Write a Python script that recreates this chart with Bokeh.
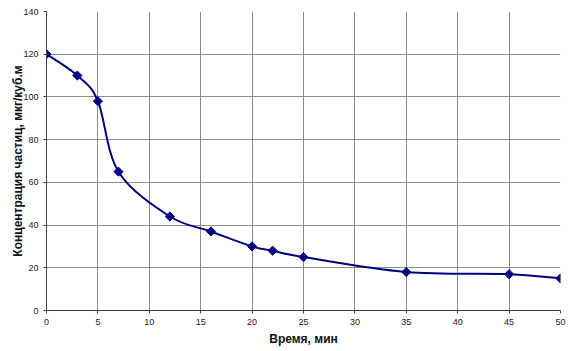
from bokeh.plotting import figure
from bokeh.models import Range1d, FixedTicker
from bokeh.embed import file_html
from bokeh.resources import INLINE
import numpy as np

time_min = [0, 3, 5, 7, 12, 16, 20, 22, 25, 35, 45, 50]
conc = [120, 110, 98, 65, 44, 37, 30, 28, 25, 18, 17, 15]
x_ticks = list(range(0, 51, 5))
y_ticks = list(range(0, 141, 20))

p = figure(width=570, height=351, output_backend="svg", toolbar_location=None,
           x_range=Range1d(0, 50), y_range=Range1d(0, 140),
           min_border_left=46, min_border_right=10, min_border_top=11, min_border_bottom=41)
p.outline_line_color = None
p.background_fill_color = "white"

# smoothed line (Catmull-Rom style Bezier segments between data points)
x = np.array(time_min, dtype=float)
y = np.array(conc, dtype=float)
xp = np.concatenate([[x[0]], x, [x[-1]]])
yp = np.concatenate([[y[0]], y, [y[-1]]])
n = len(x)
cx0 = x[:-1] + (xp[2:n+1] - xp[0:n-1]) / 6
cy0 = y[:-1] + (yp[2:n+1] - yp[0:n-1]) / 6
cx1 = x[1:] - (xp[3:n+2] - xp[1:n]) / 6
cy1 = y[1:] - (yp[3:n+2] - yp[1:n]) / 6
p.bezier(x0=x[:-1], y0=y[:-1], x1=x[1:], y1=y[1:], cx0=cx0, cy0=cy0, cx1=cx1, cy1=cy1,
         line_color="#000080", line_width=2)
p.scatter(time_min, conc, marker="square", angle=np.pi / 4, size=6.5,
          fill_color="#000080", line_color="#000080")

for ax in (p.xaxis, p.yaxis):
    ax.axis_line_color = "#404040"
    ax.major_tick_line_color = "#404040"
    ax.major_tick_out = 3
    ax.major_tick_in = 0
    ax.minor_tick_line_color = None
    ax.major_label_text_font = "Liberation Sans"
    ax.major_label_text_font_size = "9px"
    ax.major_label_text_color = "#222222"
    ax.axis_label_text_font = "Liberation Sans"
    ax.axis_label_text_font_style = "bold"
    ax.axis_label_text_font_size = "12px"
    ax.axis_label_text_color = "#111111"

p.xaxis.ticker = FixedTicker(ticks=x_ticks)
p.yaxis.ticker = FixedTicker(ticks=y_ticks)
p.xaxis.axis_label = "Время, мин"
p.yaxis.axis_label = "Концентрация частиц, мкг/куб.м"
p.xaxis.axis_label_standoff = 4
p.yaxis.axis_label_standoff = -5

for g in (p.xgrid, p.ygrid):
    g.grid_line_color = "#8c8c8c"
    g.grid_line_width = 1

open("out.html", "w").write(file_html(p, INLINE))
